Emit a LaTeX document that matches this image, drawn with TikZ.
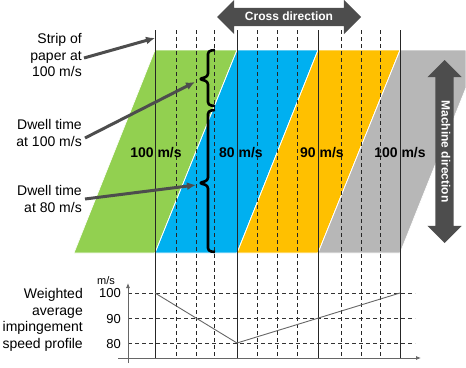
\documentclass[tikz,border=0pt]{standalone}
\usepackage{fontspec}
\setmainfont{Liberation Sans}
\usetikzlibrary{arrows.meta,positioning,shapes.arrows}
\definecolor{bandgreen}{HTML}{92D050}
\definecolor{bandblue}{HTML}{00B0F0}
\definecolor{bandyellow}{HTML}{FFC000}
\definecolor{bandgray}{HTML}{B7B7B7}
\definecolor{arrowdark}{HTML}{4D4D4D}
\definecolor{linegray}{HTML}{666666}
\tikzset{
  band/.style={draw=white, line width=.6pt},
  solidline/.style={draw=black!85, line width=.6pt},
  dashline/.style={solidline, dash pattern=on 4pt off 3pt},
  griddash/.style={draw=black!80, line width=.6pt, dash pattern=on 4pt off 3pt},
  lbl/.style={font=\fontsize{14}{16.5}\selectfont, align=right, anchor=east, inner sep=0pt},
  speed/.style={font=\fontsize{14}{16}\selectfont\bfseries, inner sep=0pt},
  tick/.style={font=\fontsize{13}{13}\selectfont, anchor=east, inner sep=0pt},
  ptr/.style={-{Latex[length=9pt,width=8pt]}, line width=3pt, draw=arrowdark},
  brc/.style={line width=2.6pt, rounded corners=3pt, line join=round},
  bigarrow/.style={double arrow, fill=arrowdark, text=white, font=\fontsize{12}{12}\selectfont\bfseries,
    double arrow head extend=8pt, double arrow head indent=0pt, minimum width=34pt,
    inner xsep=0pt, inner ysep=3pt, text height=9pt, text depth=3pt},
  axis/.style={-{Latex[length=5pt,width=4pt]}, draw=linegray, line width=.8pt},
}

\begin{document}
\begin{tikzpicture}[x=1pt, y=-1pt]
  \useasboundingbox (0,0) rectangle (466,367);
  % strip bands
  \fill[band, fill=bandgreen]  (74,253) -- (155,50) -- (237,50) -- (155,253) -- cycle;
  \fill[band, fill=bandblue]   (155,253) -- (237,50) -- (318,50) -- (237,253) -- cycle;
  \fill[band, fill=bandyellow] (237,253) -- (318,50) -- (400,50) -- (318,253) -- cycle;
  \fill[band, fill=bandgray]   (318,253) -- (400,50) -- (466,50) -- (466,87.6) -- (400,253) -- cycle;
  \draw[band] (155,253) -- (237,50) (237,253) -- (318,50) (318,253) -- (400,50);

  % lanes
  \foreach \x in {155,237,318,400}
    \draw[solidline] (\x,30) -- (\x,358);
  \foreach \x in {176,196,214,257,277,297,341,361,380}
    \draw[dashline] (\x,30) -- (\x,358);

  \node[speed] (v1) at (156,153) {100 m/s};
  \node[speed] (v2) at (241,153) {80 m/s};
  \node[speed] (v3) at (322,153) {90 m/s};
  \node[speed] (v4) at (400,153) {100 m/s};

  % dwell braces
  \draw[brc] (215,50) -- (208,51) -- (208,76.5) -- (199,79) -- (208,81.5) -- (208,105) -- (215,106);
  \draw[brc] (215,110) -- (208,111) -- (208,180.5) -- (199,183) -- (208,185.5) -- (208,251) -- (215,252);
  \coordinate (tipstrip) at (155,38);
  \coordinate (tipfast) at (195,82);
  \coordinate (tipslow) at (196,185);

  % labels
  \node[lbl] (strip) at (82,55) {Strip of\\paper at\\100 m/s};
  \node[lbl] (dwellfast) at (82,133) {Dwell time\\at 100 m/s};
  \node[lbl] (dwellslow) at (82,199) {Dwell time\\at 80 m/s};
  \node[lbl] (profile) at (83,320) {Weighted\\average\\impingement\\speed profile};
  \draw[ptr] ([xshift=2pt,yshift=-3pt]strip.east) -- (tipstrip);
  \draw[ptr] ([xshift=3pt,yshift=-5pt]dwellfast.east) -- (tipfast);
  \draw[ptr] ([xshift=3pt]dwellslow.east) -- (tipslow);

  % direction arrows
  \node[bigarrow, minimum height=144pt] (cross) at (289,17) {Cross direction};
  \node[bigarrow, minimum height=183pt, rotate=-90] (machine) at (444.5,151.5) {Machine direction};

  % speed profile
  \foreach \y in {293,318,343}
    \draw[griddash] (128,\y) -- (415,\y);
  \draw[axis] (118,358) -- (421,358);
  \draw[axis] (128,363) -- (128,283);
  \node[font=\fontsize{11}{11}\selectfont, inner sep=0pt] (unit) at (106,281) {m/s};
  \node[tick] (t100) at (121,293) {100};
  \node[tick] (t90) at (121,319) {90};
  \node[tick] (t80) at (121,344) {80};
  \draw[draw=linegray, line width=.9pt] (155,293) -- (237,343) -- (400,293);
\end{tikzpicture}
\end{document}
